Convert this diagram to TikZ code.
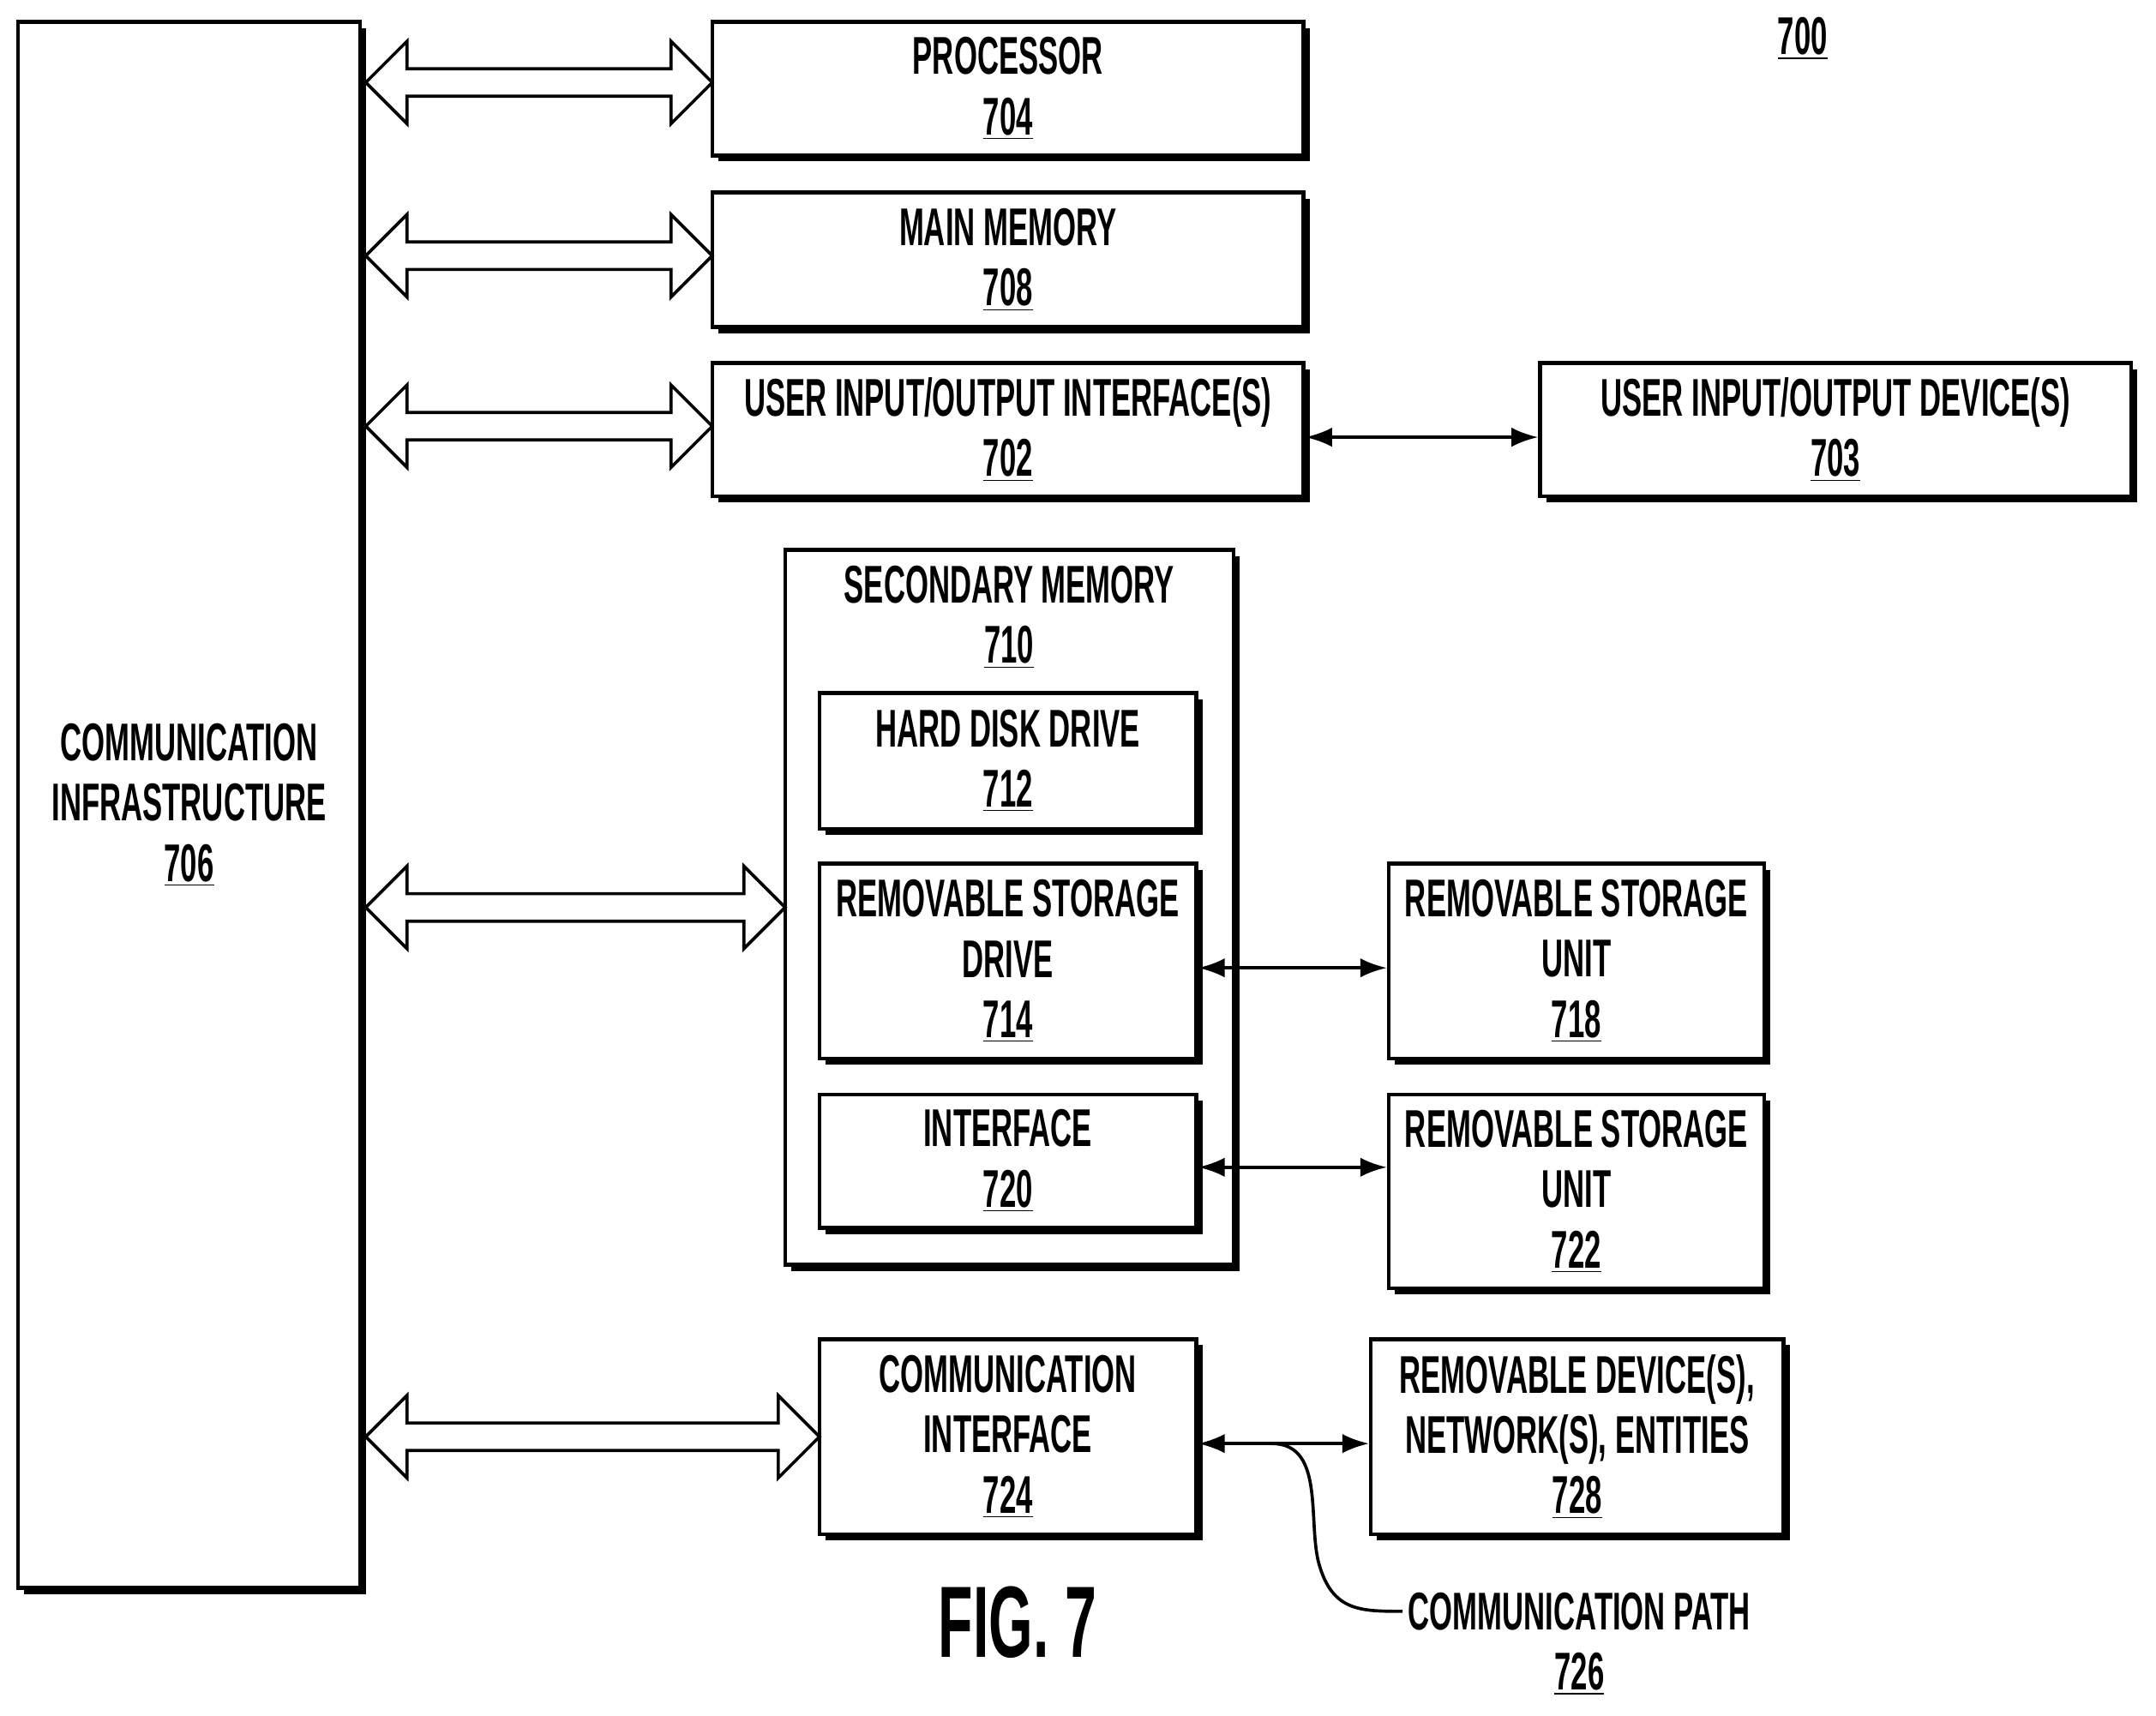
\documentclass[tikz,border=0pt]{standalone}
\usepackage{fontspec}
\setmainfont{Liberation Sans}[FakeStretch=0.56]
\usetikzlibrary{shadows,calc,arrows.meta}
\begin{document}
\begin{tikzpicture}[x=0.02cm,y=-0.02cm,
 box/.style={draw,line width=1.6pt,fill=white,align=center,inner sep=0pt,font=\bfseries\fontsize{22}{25}\selectfont,
   drop shadow={shadow xshift=0.09cm,shadow yshift=-0.09cm,opacity=1,fill=black}},
 thin/.style={line width=1.3pt,{Latex[length=11pt,width=8pt]}-{Latex[length=11pt,width=8pt]}},
 lbl/.style={font=\bfseries\fontsize{22}{25}\selectfont,align=center}]
\useasboundingbox (0,0) rectangle (1568,1248);
\newcommand\bx[6]{\node[box,minimum width={(#4-#2)*0.02cm},minimum height={(#5-#3)*0.02cm}] (#1) at ({(#2+#4)/2},{(#3+#5)/2}) {#6};}
\newcommand\dbl[3]{\draw[line width=1.3pt,fill=white] (#1,#3) -- ++(30,-30) -- ++(0,20) -- (#2-30,#3-10) -- ++(0,-20) -- (#2,#3) -- ++(-30,30) -- ++(0,-20) -- (#1+30,#3+10) -- ++(0,20) -- cycle;}
\bx{infra}{13}{16}{262}{1155}{COMMUNICATION\\INFRASTRUCTURE\\\underline{706}}
\bx{proc}{518}{16}{948}{113}{PROCESSOR\\\underline{704}}
\bx{mem}{518}{140}{948}{238}{MAIN MEMORY\\\underline{708}}
\bx{uio}{518}{264}{948}{361}{USER INPUT/OUTPUT INTERFACE(S)\\\underline{702}}
\bx{uiod}{1120}{264}{1550}{361}{USER INPUT/OUTPUT DEVICE(S)\\\underline{703}}
\node[box,minimum width={326*0.02cm},minimum height={520*0.02cm}] (sec) at (734,660) {};
\node[lbl] (sect) at (734,449) {SECONDARY MEMORY\\\underline{710}};
\bx{hdd}{596}{504}{870}{603}{HARD DISK DRIVE\\\underline{712}}
\bx{rsd}{596}{628}{870}{770}{REMOVABLE STORAGE\\DRIVE\\\underline{714}}
\bx{intf}{596}{796}{870}{893}{INTERFACE\\\underline{720}}
\bx{rsu1}{1010}{628}{1283}{770}{REMOVABLE STORAGE\\UNIT\\\underline{718}}
\bx{rsu2}{1010}{796}{1283}{937}{REMOVABLE STORAGE\\UNIT\\\underline{722}}
\bx{ci}{596}{974}{870}{1116}{COMMUNICATION\\INTERFACE\\\underline{724}}
\bx{rd}{997}{974}{1297}{1116}{REMOVABLE DEVICE(S),\\NETWORK(S), ENTITIES\\\underline{728}}
\dbl{266}{518}{60}
\dbl{266}{518}{186}
\dbl{266}{518}{310}
\dbl{266}{571}{660}
\dbl{266}{596}{1045}
\draw[thin] (uio.east |- 0,318) -- (uiod.west |- 0,318);
\draw[thin] (rsd.east |- 0,704) -- (rsu1.west |- 0,704);
\draw[thin] (intf.east |- 0,849) -- (rsu2.west |- 0,849);
\draw[thin] (ci.east |- 0,1050) -- (rd.west |- 0,1050);
\node[lbl,anchor=north west] (path) at (1018,1152) {COMMUNICATION PATH\\\underline{726}};
\coordinate (pc) at (1020,1172);
\draw[line width=1.3pt] (925,1050) .. controls (965,1050) and (950,1110) .. (960,1140) .. controls (970,1172) and (990,1172) .. (pc);
\node[lbl] (n700) at (1311,28) {\underline{700}};
\node[font=\bfseries\fontsize{42}{50}\selectfont] (fig) at (740,1180) {FIG. 7};
\end{tikzpicture}
\end{document}
